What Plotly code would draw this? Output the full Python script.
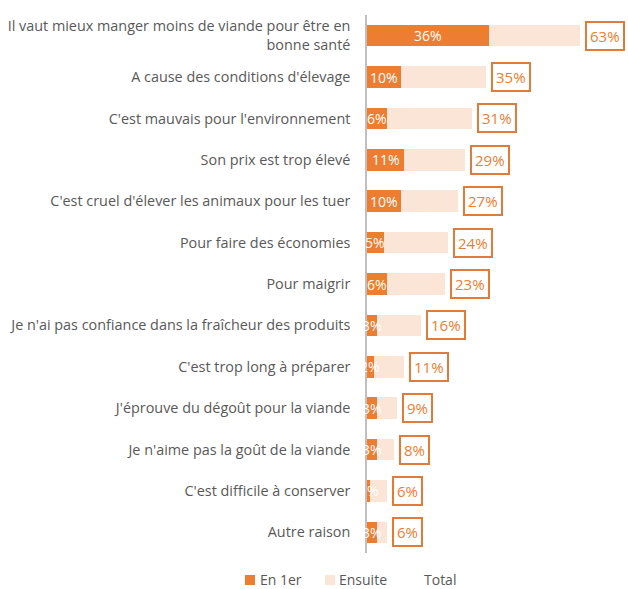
import plotly.graph_objects as go

categories = [
    "Il vaut mieux manger moins de viande pour être en<br>bonne santé",
    "A cause des conditions d'élevage",
    "C'est mauvais pour l'environnement",
    "Son prix est trop élevé",
    "C'est cruel d'élever les animaux pour les tuer",
    "Pour faire des économies",
    "Pour maigrir",
    "Je n'ai pas confiance dans la fraîcheur des produits",
    "C'est trop long à préparer",
    "J'éprouve du dégoût pour la viande",
    "Je n'aime pas la goût de la viande",
    "C'est difficile à conserver",
    "Autre raison",
]
en_1er = [36, 10, 6, 11, 10, 5, 6, 3, 2, 3, 3, 1, 3]
total = [63, 35, 31, 29, 27, 24, 23, 16, 11, 9, 8, 6, 6]
ensuite = [t - e for t, e in zip(total, en_1er)]
legend_names = ["En 1er", "Ensuite", "Total"]

ORANGE = "#ED7D31"
PEACH = "#FBE5D6"
GRAY = "#595959"

W, H = 628, 589
ML, MR, MT, MB = 367, 24, 15, 36
PW, PH = W - ML - MR, H - MT - MB


def px_x(p):
    return (p - ML) / PW


def px_y(p):
    return (H - MB - p) / PH


fig = go.Figure()
fig.add_trace(go.Bar(y=categories, x=en_1er, orientation="h", name=legend_names[0],
                     marker=dict(color=ORANGE, line=dict(width=0))))
fig.add_trace(go.Bar(y=categories, x=ensuite, orientation="h", name=legend_names[1],
                     marker=dict(color=PEACH, line=dict(width=0))))

annotations = []
for c, e, t in zip(categories, en_1er, total):
    annotations.append(dict(x=e / 2, y=c, text=f"{e}%", showarrow=False,
                            xanchor="center", yanchor="middle",
                            font=dict(color="white", size=14, family="Open Sans")))
    annotations.append(dict(x=t, y=c, text=f"{t}%", showarrow=False,
                            xanchor="left", yanchor="middle", xshift=5,
                            font=dict(color=ORANGE, size=15, family="Open Sans"),
                            bordercolor="#E07B39", borderwidth=2, borderpad=3,
                            bgcolor="white"))

# manual legend (below the chart, centred on the page)
shapes = []
leg_y = 579
leg_items = [(legend_names[0], ORANGE, 245, 259),
             (legend_names[1], PEACH, 325, 338),
             (legend_names[2], None, None, 423)]
for name, col, sx, tx in leg_items:
    if col is not None:
        shapes.append(dict(type="rect", xref="paper", yref="paper",
                           x0=px_x(sx), x1=px_x(sx + 10),
                           y0=px_y(leg_y + 6), y1=px_y(leg_y - 4),
                           fillcolor=col, line=dict(width=0)))
    annotations.append(dict(xref="paper", yref="paper", x=px_x(tx), y=px_y(leg_y),
                            text=name, showarrow=False, xanchor="left", yanchor="middle",
                            borderpad=0,
                            font=dict(size=14, color=GRAY, family="Open Sans")))

fig.update_layout(
    barmode="stack",
    bargap=0.48,
    width=W, height=H,
    margin=dict(l=ML, r=MR, t=MT, b=MB),
    plot_bgcolor="white", paper_bgcolor="white",
    font=dict(family="Open Sans", color=GRAY, size=14.4),
    annotations=annotations,
    shapes=shapes,
    showlegend=False,
    xaxis=dict(range=[0, 70], showgrid=False, showticklabels=False, zeroline=False,
               fixedrange=True, automargin=False),
    yaxis=dict(autorange="reversed", showline=True, linecolor="#BFBFBF", linewidth=1.5,
               ticks="", ticklabelstandoff=12, automargin=False,
               tickfont=dict(size=14.4, color=GRAY)),
)

fig.write_html("out.html")
